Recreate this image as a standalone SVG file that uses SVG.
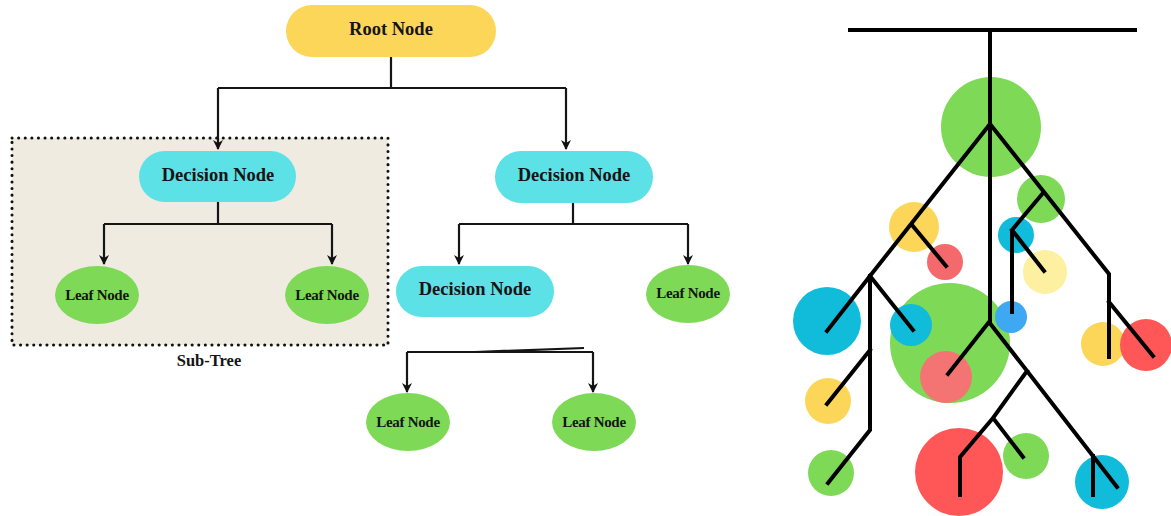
<svg xmlns="http://www.w3.org/2000/svg" width="1171" height="516" viewBox="0 0 1171 516">
<defs>
<marker id="arr" viewBox="0 0 10 10" refX="9" refY="5" markerWidth="10" markerHeight="10" markerUnits="userSpaceOnUse" orient="auto">
<path d="M0,0 L10,5 L0,10 L3,5 Z" fill="#111"/>
</marker>
<style>
.lbl{font-family:"Liberation Serif",serif;font-weight:bold;fill:#151515;text-anchor:middle;dominant-baseline:central}
.big{font-size:18.5px}
.sm{font-size:15px;letter-spacing:-0.3px}
.con{fill:none;stroke:#151515;stroke-width:2.2}
.dec{fill:#5ce1e6}
.leaf{fill:#7ed957}
.br{fill:none;stroke:#000;stroke-width:4;stroke-linecap:square;stroke-linejoin:miter}
</style>
</defs>
<rect width="1171" height="516" fill="#fff"/>

<g id="subtree">
<rect x="12" y="138" width="376" height="207" fill="#efebe1" stroke="#111" stroke-width="3" stroke-dasharray="0.1 6.5" stroke-linecap="round"/>
<text class="lbl" x="209" y="360" font-size="16.5">Sub-Tree</text>
</g>

<g id="connectors">
<path class="con" d="M391,57 V88 M218,88 H566"/>
<path class="con" d="M218,88 V149" marker-end="url(#arr)"/>
<path class="con" d="M566,88 V149" marker-end="url(#arr)"/>
<path class="con" d="M218,202 V224 M104,224 H332"/>
<path class="con" d="M104,224 V264" marker-end="url(#arr)"/>
<path class="con" d="M332,224 V264" marker-end="url(#arr)"/>
<path class="con" d="M573,203 V224 M459,224 H688"/>
<path class="con" d="M459,224 V264" marker-end="url(#arr)"/>
<path class="con" d="M688,224 V264" marker-end="url(#arr)"/>
<path class="con" d="M407,352 H593 M475,352 L584,348"/>
<path class="con" d="M407,352 V392" marker-end="url(#arr)"/>
<path class="con" d="M593,352 V392" marker-end="url(#arr)"/>
</g>

<g id="root">
<rect x="286" y="5" width="210" height="52" rx="26" fill="#fcd659"/>
<text class="lbl big" x="391" y="29">Root Node</text>
</g>
<g id="decision1">
<rect x="139" y="151" width="157" height="51" rx="25.5" class="dec"/>
<text class="lbl big" x="218" y="175">Decision Node</text>
</g>
<g id="decision2">
<rect x="495" y="151" width="158" height="52" rx="26" class="dec"/>
<text class="lbl big" x="574" y="175">Decision Node</text>
</g>
<g id="decision3">
<rect x="396" y="266" width="158" height="51" rx="25.5" class="dec"/>
<text class="lbl big" x="475" y="289">Decision Node</text>
</g>
<g id="leaf1">
<ellipse cx="97" cy="295" rx="42" ry="29" class="leaf"/>
<text class="lbl sm" x="97" y="295">Leaf Node</text>
</g>
<g id="leaf2">
<ellipse cx="327" cy="295" rx="42" ry="29" class="leaf"/>
<text class="lbl sm" x="327" y="295">Leaf Node</text>
</g>
<g id="leaf3">
<ellipse cx="688" cy="294" rx="42" ry="29" class="leaf"/>
<text class="lbl sm" x="688" y="293">Leaf Node</text>
</g>
<g id="leaf4">
<ellipse cx="408" cy="422" rx="42" ry="29" class="leaf"/>
<text class="lbl sm" x="408" y="422">Leaf Node</text>
</g>
<g id="leaf5">
<ellipse cx="594" cy="422" rx="42" ry="29" class="leaf"/>
<text class="lbl sm" x="594" y="422">Leaf Node</text>
</g>

<g id="tree-circles">
<circle cx="991" cy="127" r="50" fill="#7ed957"/>
<circle cx="1041" cy="199" r="24" fill="#7ed957"/>
<circle cx="914" cy="227" r="25" fill="#fcd659"/>
<circle cx="945" cy="262" r="18" fill="#f4696b"/>
<circle cx="1016" cy="235" r="18" fill="#10bcd9"/>
<circle cx="1045" cy="272" r="22" fill="#fdf0a0"/>
<circle cx="827" cy="321" r="34" fill="#10bcd9"/>
<circle cx="950" cy="343" r="60" fill="#7ed957"/>
<circle cx="911" cy="325" r="21" fill="#10bcd9"/>
<circle cx="946" cy="377" r="26" fill="#f47474"/>
<circle cx="1011" cy="317" r="16" fill="#3ea8f2"/>
<circle cx="1103" cy="344" r="22" fill="#fcd659"/>
<circle cx="1146" cy="345" r="26" fill="#ff5757"/>
<circle cx="828" cy="401" r="23" fill="#fcd659"/>
<circle cx="831" cy="473" r="23" fill="#7ed957"/>
<circle cx="959" cy="472" r="44" fill="#ff5757"/>
<circle cx="1026" cy="456" r="23" fill="#7ed957"/>
<circle cx="1102" cy="482" r="27" fill="#10bcd9"/>
</g>

<g id="tree-branches">
<path class="br" d="M850,30 H1135"/>
<path class="br" d="M990,30 V322"/>
<path class="br" d="M870,276 L990,124 L1109,274 V357 M1109,302 L1153,356"/>
<path class="br" d="M912,225 L946,266"/>
<path class="br" d="M1043,193 L1012,230 V312 M1012,230 L1044,271"/>
<path class="br" d="M827,331 L870,276 L913,330 M870,276 V430 L828,483 M870,350 L827,404"/>
<path class="br" d="M948,374 L989,322 L1117,487 M1027,371 L993,418 L1023,457 M993,418 L960,457 V495 M1093,456 V495"/>
</g>
</svg>
